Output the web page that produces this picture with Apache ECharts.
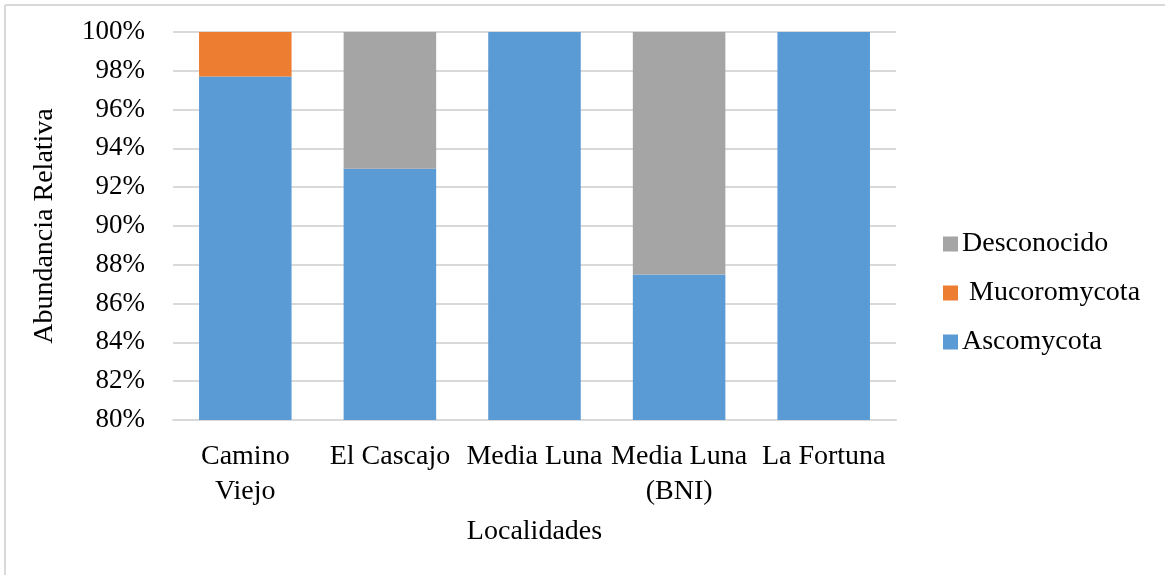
<!DOCTYPE html>
<html>
<head>
<meta charset="utf-8">
<script src="https://cdn.jsdelivr.net/npm/echarts@6/dist/echarts.min.js"></script>
<style>
  html, body { margin: 0; padding: 0; background: #fff; }
  #chart { width: 1165px; height: 575px; }
</style>
</head>
<body>
<div id="chart"></div>
<script>
// Data
var localidades = ['Camino\nViejo', 'El Cascajo', 'Media Luna', 'Media Luna\n(BNI)', 'La Fortuna'];
var ascomycota = [97.7, 92.95, 100, 87.5, 100];
var mucoromycota = [2.3, 0, 0, 0, 0];
var desconocido = [0, 7.05, 0, 12.5, 0];
var yTicks = { min: 80, max: 100, step: 2 };

var fontFam = '"Liberation Serif", "Times New Roman", serif';
var gridColor = '#d9d9d9';

var chart = echarts.init(document.getElementById('chart'));

chart.setOption({
    animation: false,
    color: ['#5b9bd5', '#ed7d31', '#a5a5a5'],
    textStyle: { fontFamily: fontFam, color: '#000' },

    // Outer frame (left and top edges visible)
    graphic: [
        { type: 'line', shape: { x1: 5, y1: 5, x2: 1165, y2: 5 }, style: { stroke: gridColor, lineWidth: 2 } },
        { type: 'line', shape: { x1: 5, y1: 5, x2: 5, y2: 575 }, style: { stroke: gridColor, lineWidth: 2 } }
    ],

    grid: { left: 173, right: 269, top: 32, bottom: 155 },

    legend: {
        orient: 'vertical',
        left: 938,
        top: 225,
        itemWidth: 15,
        itemHeight: 15,
        itemGap: 21,
        icon: 'rect',
        data: ['Desconocido', ' Mucoromycota', 'Ascomycota'],
        textStyle: { fontFamily: fontFam, fontSize: 28, color: '#000', padding: [0, 0, 0, -1] }
    },

    xAxis: {
        type: 'category',
        data: localidades,
        name: 'Localidades',
        nameLocation: 'middle',
        nameGap: 98,
        nameTextStyle: { fontFamily: fontFam, fontSize: 28, color: '#000' },
        axisLine: { show: true, lineStyle: { color: gridColor, width: 2 } },
        axisTick: { show: false },
        axisLabel: {
            interval: 0,
            margin: 19,
            fontFamily: fontFam,
            fontSize: 28,
            color: '#000',
            lineHeight: 35
        }
    },

    yAxis: {
        type: 'value',
        min: yTicks.min,
        max: yTicks.max,
        interval: yTicks.step,
        name: 'Abundancia Relativa',
        nameLocation: 'middle',
        nameGap: 114,
        nameTextStyle: { fontFamily: fontFam, fontSize: 28, color: '#000' },
        axisLine: { show: false },
        axisTick: { show: false },
        axisLabel: {
            margin: 28,
            fontFamily: fontFam,
            fontSize: 27,
            color: '#000',
            formatter: '{value}%'
        },
        splitLine: { lineStyle: { color: gridColor, width: 2 } }
    },

    series: [
        { name: 'Ascomycota', type: 'bar', stack: 'total', barCategoryGap: '36%', data: ascomycota },
        { name: ' Mucoromycota', type: 'bar', stack: 'total', data: mucoromycota },
        { name: 'Desconocido', type: 'bar', stack: 'total', data: desconocido }
    ]
});

window.addEventListener('resize', function () {
    chart.resize();
});
</script>
</body>
</html>
